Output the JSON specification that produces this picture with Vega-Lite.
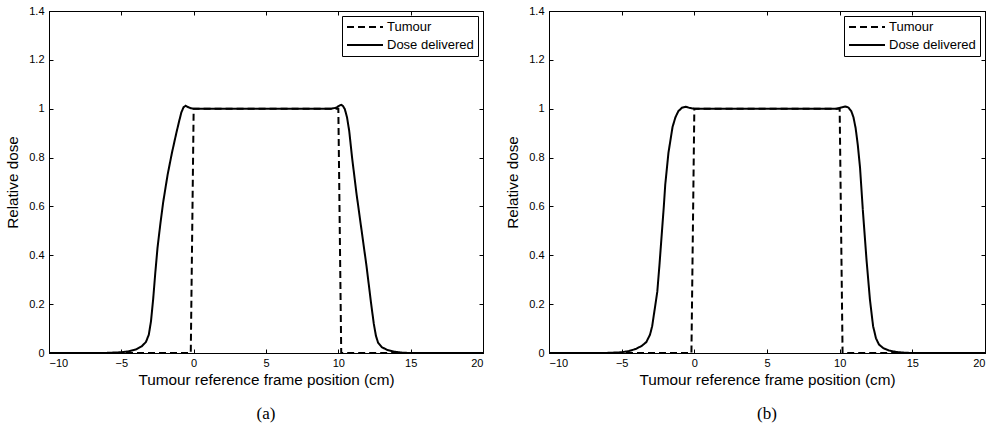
{
  "$schema": "https://vega.github.io/schema/vega-lite/v6.json",
  "background": "white",
  "padding": {"left": 5, "top": 4, "right": 5, "bottom": 5},
  "spacing": 17,
  "datasets": {
    "a": [
      {"x": -10, "y": 0, "series": "Tumour"},
      {"x": -0.2, "y": 0, "series": "Tumour"},
      {"x": 0, "y": 1, "series": "Tumour"},
      {"x": 10, "y": 1, "series": "Tumour"},
      {"x": 10.2, "y": 0, "series": "Tumour"},
      {"x": 20, "y": 0, "series": "Tumour"},
      {"x": -10, "y": 0, "series": "Dose delivered"},
      {"x": -7, "y": 0, "series": "Dose delivered"},
      {"x": -6, "y": 0.0005, "series": "Dose delivered"},
      {"x": -5, "y": 0.003, "series": "Dose delivered"},
      {"x": -4.5, "y": 0.007, "series": "Dose delivered"},
      {"x": -4, "y": 0.014, "series": "Dose delivered"},
      {"x": -3.6, "y": 0.027, "series": "Dose delivered"},
      {"x": -3.3, "y": 0.045, "series": "Dose delivered"},
      {"x": -3.1, "y": 0.075, "series": "Dose delivered"},
      {"x": -2.95, "y": 0.13, "series": "Dose delivered"},
      {"x": -2.8, "y": 0.22, "series": "Dose delivered"},
      {"x": -2.65, "y": 0.33, "series": "Dose delivered"},
      {"x": -2.5, "y": 0.43, "series": "Dose delivered"},
      {"x": -2.3, "y": 0.53, "series": "Dose delivered"},
      {"x": -2.1, "y": 0.62, "series": "Dose delivered"},
      {"x": -1.8, "y": 0.73, "series": "Dose delivered"},
      {"x": -1.5, "y": 0.82, "series": "Dose delivered"},
      {"x": -1.2, "y": 0.9, "series": "Dose delivered"},
      {"x": -1.0, "y": 0.95, "series": "Dose delivered"},
      {"x": -0.85, "y": 0.985, "series": "Dose delivered"},
      {"x": -0.7, "y": 1.006, "series": "Dose delivered"},
      {"x": -0.55, "y": 1.012, "series": "Dose delivered"},
      {"x": -0.4, "y": 1.007, "series": "Dose delivered"},
      {"x": -0.2, "y": 1.002, "series": "Dose delivered"},
      {"x": 0, "y": 1, "series": "Dose delivered"},
      {"x": 5, "y": 1, "series": "Dose delivered"},
      {"x": 9.5, "y": 1, "series": "Dose delivered"},
      {"x": 9.85, "y": 1.004, "series": "Dose delivered"},
      {"x": 10.05, "y": 1.012, "series": "Dose delivered"},
      {"x": 10.2, "y": 1.016, "series": "Dose delivered"},
      {"x": 10.32, "y": 1.011, "series": "Dose delivered"},
      {"x": 10.45, "y": 0.998, "series": "Dose delivered"},
      {"x": 10.6, "y": 0.965, "series": "Dose delivered"},
      {"x": 10.75, "y": 0.91, "series": "Dose delivered"},
      {"x": 10.95, "y": 0.8, "series": "Dose delivered"},
      {"x": 11.25, "y": 0.655, "series": "Dose delivered"},
      {"x": 11.6, "y": 0.505, "series": "Dose delivered"},
      {"x": 11.95, "y": 0.355, "series": "Dose delivered"},
      {"x": 12.25, "y": 0.21, "series": "Dose delivered"},
      {"x": 12.45, "y": 0.12, "series": "Dose delivered"},
      {"x": 12.6, "y": 0.07, "series": "Dose delivered"},
      {"x": 12.75, "y": 0.042, "series": "Dose delivered"},
      {"x": 13.0, "y": 0.024, "series": "Dose delivered"},
      {"x": 13.4, "y": 0.012, "series": "Dose delivered"},
      {"x": 13.9, "y": 0.005, "series": "Dose delivered"},
      {"x": 14.5, "y": 0.001, "series": "Dose delivered"},
      {"x": 15, "y": 0, "series": "Dose delivered"},
      {"x": 20, "y": 0, "series": "Dose delivered"}
    ],
    "b": [
      {"x": -10, "y": 0, "series": "Tumour"},
      {"x": -0.2, "y": 0, "series": "Tumour"},
      {"x": 0, "y": 1, "series": "Tumour"},
      {"x": 10, "y": 1, "series": "Tumour"},
      {"x": 10.2, "y": 0, "series": "Tumour"},
      {"x": 20, "y": 0, "series": "Tumour"},
      {"x": -10, "y": 0, "series": "Dose delivered"},
      {"x": -7, "y": 0, "series": "Dose delivered"},
      {"x": -6, "y": 0.0005, "series": "Dose delivered"},
      {"x": -5, "y": 0.003, "series": "Dose delivered"},
      {"x": -4.5, "y": 0.008, "series": "Dose delivered"},
      {"x": -4.0, "y": 0.017, "series": "Dose delivered"},
      {"x": -3.6, "y": 0.03, "series": "Dose delivered"},
      {"x": -3.3, "y": 0.045, "series": "Dose delivered"},
      {"x": -3.05, "y": 0.075, "series": "Dose delivered"},
      {"x": -2.9, "y": 0.11, "series": "Dose delivered"},
      {"x": -2.75, "y": 0.17, "series": "Dose delivered"},
      {"x": -2.55, "y": 0.25, "series": "Dose delivered"},
      {"x": -2.4, "y": 0.36, "series": "Dose delivered"},
      {"x": -2.25, "y": 0.48, "series": "Dose delivered"},
      {"x": -2.1, "y": 0.6, "series": "Dose delivered"},
      {"x": -2.0, "y": 0.69, "series": "Dose delivered"},
      {"x": -1.78, "y": 0.82, "series": "Dose delivered"},
      {"x": -1.5, "y": 0.925, "series": "Dose delivered"},
      {"x": -1.3, "y": 0.965, "series": "Dose delivered"},
      {"x": -1.1, "y": 0.99, "series": "Dose delivered"},
      {"x": -0.85, "y": 1.004, "series": "Dose delivered"},
      {"x": -0.6, "y": 1.008, "series": "Dose delivered"},
      {"x": -0.3, "y": 1.003, "series": "Dose delivered"},
      {"x": 0, "y": 1, "series": "Dose delivered"},
      {"x": 5, "y": 1, "series": "Dose delivered"},
      {"x": 9.8, "y": 1, "series": "Dose delivered"},
      {"x": 10.1, "y": 1.005, "series": "Dose delivered"},
      {"x": 10.4, "y": 1.009, "series": "Dose delivered"},
      {"x": 10.6, "y": 1.005, "series": "Dose delivered"},
      {"x": 10.8, "y": 0.99, "series": "Dose delivered"},
      {"x": 10.95, "y": 0.965, "series": "Dose delivered"},
      {"x": 11.1, "y": 0.92, "series": "Dose delivered"},
      {"x": 11.25, "y": 0.85, "series": "Dose delivered"},
      {"x": 11.4, "y": 0.76, "series": "Dose delivered"},
      {"x": 11.6, "y": 0.58, "series": "Dose delivered"},
      {"x": 11.85, "y": 0.38, "series": "Dose delivered"},
      {"x": 12.08, "y": 0.22, "series": "Dose delivered"},
      {"x": 12.3, "y": 0.11, "series": "Dose delivered"},
      {"x": 12.5, "y": 0.06, "series": "Dose delivered"},
      {"x": 12.7, "y": 0.035, "series": "Dose delivered"},
      {"x": 13.0, "y": 0.02, "series": "Dose delivered"},
      {"x": 13.4, "y": 0.01, "series": "Dose delivered"},
      {"x": 13.9, "y": 0.004, "series": "Dose delivered"},
      {"x": 14.5, "y": 0.001, "series": "Dose delivered"},
      {"x": 15, "y": 0, "series": "Dose delivered"},
      {"x": 20, "y": 0, "series": "Dose delivered"}
    ]
  },
  "hconcat": [
    {
      "width": 434,
      "height": 342,
      "data": {"name": "a"},
      "title": {"text": "(a)", "orient": "bottom", "font": "Liberation Serif", "fontSize": 17, "fontWeight": "normal", "offset": 19},
      "layer": [
        {
          "mark": {"type": "line", "color": "black", "strokeWidth": 2},
          "encoding": {
            "x": {"field": "x", "type": "quantitative", "scale": {"domain": [-10, 20], "nice": false, "zero": false},
                  "axis": {"orient": "bottom", "title": "Tumour reference frame position (cm)", "values": [-10, -5, 0, 5, 10, 15, 20]}},
            "y": {"field": "y", "type": "quantitative", "scale": {"domain": [0, 1.4], "nice": false},
                  "axis": {"orient": "left", "title": "Relative dose", "values": [0, 0.2, 0.4, 0.6, 0.8, 1, 1.2, 1.4], "format": "~g"}},
            "strokeDash": {"field": "series", "type": "nominal",
                           "scale": {"domain": ["Tumour", "Dose delivered"], "range": [[7, 4], [1, 0]]},
                           "legend": {"title": null, "orient": "top-right"}}
          }
        },
        {
          "mark": {"type": "point", "opacity": 0},
          "encoding": {
            "x": {"field": "x", "type": "quantitative", "axis": {"orient": "top", "title": null, "labels": false, "values": [-10, -5, 0, 5, 10, 15, 20]}},
            "y": {"field": "y", "type": "quantitative", "axis": {"orient": "right", "title": null, "labels": false, "values": [0, 0.2, 0.4, 0.6, 0.8, 1, 1.2, 1.4]}}
          }
        }
      ],
      "resolve": {"axis": {"x": "independent", "y": "independent"}}
    },
    {
      "width": 436,
      "height": 342,
      "data": {"name": "b"},
      "title": {"text": "(b)", "orient": "bottom", "font": "Liberation Serif", "fontSize": 17, "fontWeight": "normal", "offset": 19},
      "layer": [
        {
          "mark": {"type": "line", "color": "black", "strokeWidth": 2},
          "encoding": {
            "x": {"field": "x", "type": "quantitative", "scale": {"domain": [-10, 20], "nice": false, "zero": false},
                  "axis": {"orient": "bottom", "title": "Tumour reference frame position (cm)", "values": [-10, -5, 0, 5, 10, 15, 20]}},
            "y": {"field": "y", "type": "quantitative", "scale": {"domain": [0, 1.4], "nice": false},
                  "axis": {"orient": "left", "title": "Relative dose", "values": [0, 0.2, 0.4, 0.6, 0.8, 1, 1.2, 1.4], "format": "~g"}},
            "strokeDash": {"field": "series", "type": "nominal",
                           "scale": {"domain": ["Tumour", "Dose delivered"], "range": [[7, 4], [1, 0]]},
                           "legend": {"title": null, "orient": "top-right"}}
          }
        },
        {
          "mark": {"type": "point", "opacity": 0},
          "encoding": {
            "x": {"field": "x", "type": "quantitative", "axis": {"orient": "top", "title": null, "labels": false, "values": [-10, -5, 0, 5, 10, 15, 20]}},
            "y": {"field": "y", "type": "quantitative", "axis": {"orient": "right", "title": null, "labels": false, "values": [0, 0.2, 0.4, 0.6, 0.8, 1, 1.2, 1.4]}}
          }
        }
      ],
      "resolve": {"axis": {"x": "independent", "y": "independent"}}
    }
  ],
  "resolve": {"scale": {"strokeDash": "independent"}, "legend": {"strokeDash": "independent"}},
  "config": {
    "font": "Liberation Sans",
    "view": {"stroke": "black", "strokeWidth": 1},
    "axis": {
      "grid": false,
      "domainColor": "black",
      "domainWidth": 1,
      "tickColor": "black",
      "tickSize": -4,
      "labelColor": "black",
      "labelFontSize": 11,
      "titleColor": "black",
      "titleFontSize": 15.3,
      "titleFontWeight": "normal"
    },
    "axisX": {"labelPadding": 8, "titlePadding": 4},
    "axisY": {"labelPadding": 9, "titlePadding": 8},
    "legend": {
      "strokeColor": "black",
      "fillColor": "white",
      "padding": 4,
      "offset": 5,
      "cornerRadius": 0,
      "symbolType": "M-1,0H5",
      "symbolSize": 144,
      "symbolStrokeWidth": 2,
      "symbolStrokeColor": "black",
      "labelFontSize": 13,
      "labelColor": "black",
      "labelOffset": 27,
      "rowPadding": 4,
      "labelLimit": 300
    }
  }
}
